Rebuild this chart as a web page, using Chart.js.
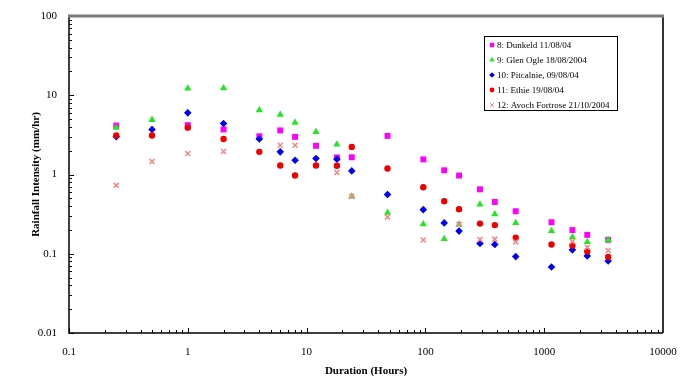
<!DOCTYPE html>
<html>
<head>
<meta charset="utf-8">
<script src="https://cdn.jsdelivr.net/npm/chart.js@4.4.0/dist/chart.umd.min.js"></script>
<style>
  html, body { margin: 0; padding: 0; background: #fff; }
</style>
</head>
<body>
<canvas id="rainChart" width="685" height="385"></canvas>
<script>
// Storm durations (hours) shared by every site
const durations = [0.25, 0.5, 1, 2, 4, 6, 8, 12, 18, 24, 48, 96, 144, 192, 288, 384, 576, 1152, 1728, 2304, 3456];

// Rainfall intensity (mm/hr) per site, null where no point is visible
const dunkeld  = [4.15, null, 4.2, 3.7, 3.04, 3.6, 2.98, 2.3, 1.64, 1.65, 3.07, 1.55, 1.13, 0.97, 0.65, 0.45, 0.344, 0.25, 0.199, 0.173, 0.15];
const glenOgle = [3.9, 4.9, 12.2, 12.3, 6.5, 5.7, 4.5, 3.44, 2.39, 0.53, 0.33, 0.236, 0.154, 0.235, 0.42, 0.316, 0.245, 0.194, 0.162, 0.141, 0.149];
const pitcalnie = [3.0, 3.7, 6.0, 4.4, 2.8, 1.93, 1.51, 1.59, 1.56, 1.11, 0.56, 0.36, 0.245, 0.193, 0.135, 0.131, 0.092, 0.068, 0.112, 0.094, 0.081];
const ethie    = [3.1, 3.1, 3.9, 2.8, 1.93, 1.3, 0.97, 1.3, 1.29, 2.23, 1.19, 0.69, 0.46, 0.365, 0.24, 0.23, 0.159, 0.131, 0.127, 0.107, 0.091];
const avoch    = [0.73, 1.46, 1.84, 1.95, null, 2.34, 2.34, null, 1.06, 0.53, 0.29, 0.149, null, 0.235, 0.151, 0.153, 0.141, null, 0.143, 0.121, 0.11];

const seriesLabels = ["8: Dunkeld 11/08/04", "9: Glen Ogle 18/08/2004", "10: Pitcalnie, 09/08/04", "11: Ethie 19/08/04", "12: Avoch Fortrose 21/10/2004"];

const xTicks = [0.1, 1, 10, 100, 1000, 10000];
const yTicks = [0.01, 0.1, 1, 10, 100];

const serif = "'Liberation Serif', 'Times New Roman', serif";

function toPoints(values) {
    return durations.map((d, i) => ({ x: d, y: values[i] })).filter(p => p.y !== null);
}

// inward minor/major tick marks plus the plot frame
const frameTicks = {
    id: 'frameTicks',
    beforeDatasetsDraw(chart) {
        const { ctx, chartArea: a, scales } = chart;
        ctx.save();
        ctx.strokeStyle = '#000';
        ctx.lineWidth = 1;
        ctx.beginPath();
        for (let d = 0.1; d < 10000; d *= 10) {
            for (let m = 1; m <= 9; m++) {
                const px = Math.round(scales.x.getPixelForValue(d * m)) + 0.5;
                const len = m === 1 ? 5 : 3;
                ctx.moveTo(px, a.bottom);
                ctx.lineTo(px, a.bottom - len);
            }
        }
        for (let d = 0.01; d < 100; d *= 10) {
            for (let m = 1; m <= 9; m++) {
                const py = Math.round(scales.y.getPixelForValue(d * m)) + 0.5;
                const len = m === 1 ? 5 : 3;
                ctx.moveTo(a.left, py);
                ctx.lineTo(a.left + len, py);
            }
        }
        ctx.stroke();

        // left + bottom axis lines
        ctx.lineWidth = 1.5;
        ctx.beginPath();
        ctx.moveTo(a.left, a.top);
        ctx.lineTo(a.left, a.bottom);
        ctx.lineTo(a.right, a.bottom);
        ctx.stroke();
        // right edge
        ctx.strokeStyle = '#333';
        ctx.lineWidth = 2;
        ctx.beginPath();
        ctx.moveTo(a.right, a.top);
        ctx.lineTo(a.right, a.bottom);
        ctx.stroke();
        // top edge, thick grey
        ctx.strokeStyle = '#7a7a7a';
        ctx.lineWidth = 3;
        ctx.beginPath();
        ctx.moveTo(a.left - 1, a.top);
        ctx.lineTo(a.right + 1, a.top);
        ctx.stroke();
        ctx.restore();
    }
};

// boxed legend inside the plot, top right
const boxLegend = {
    id: 'boxLegend',
    afterDatasetsDraw(chart) {
        const { ctx } = chart;
        const left = 484, top = 36, w = 133, h = 74;
        ctx.save();
        ctx.fillStyle = '#fff';
        ctx.fillRect(left, top, w, h);
        ctx.strokeStyle = '#000';
        ctx.lineWidth = 1;
        ctx.strokeRect(left + 0.5, top + 0.5, w, h);
        ctx.font = "9px " + serif;
        ctx.textBaseline = 'middle';
        chart.data.datasets.forEach((ds, i) => {
            const y = top + 9 + i * 15;
            ctx.fillStyle = ds.backgroundColor;
            ctx.strokeStyle = ds.borderColor;
            Chart.helpers.drawPoint(ctx, {
                pointStyle: ds.pointStyle,
                radius: ds.pointRadius * 0.75,
                rotation: 0,
                borderWidth: ds.pointBorderWidth
            }, left + 8, y);
            ctx.fillStyle = '#000';
            ctx.fillText(ds.label, left + 13, y + 0.5);
        });
        ctx.restore();
    }
};

new Chart(document.getElementById('rainChart'), {
    type: 'scatter',
    data: {
        datasets: [
            {
                label: seriesLabels[0],
                data: toPoints(dunkeld),
                pointStyle: 'rect',
                pointRadius: 4.2,
                pointBorderWidth: 0,
                backgroundColor: '#ff00ff',
                borderColor: '#ff00ff',
                order: 5
            },
            {
                label: seriesLabels[1],
                data: toPoints(glenOgle),
                pointStyle: 'triangle',
                pointRadius: 4.2,
                pointBorderWidth: 0,
                backgroundColor: '#22e622',
                borderColor: '#22e622',
                order: 4
            },
            {
                label: seriesLabels[2],
                data: toPoints(pitcalnie),
                pointStyle: 'rectRot',
                pointRadius: 3.8,
                pointBorderWidth: 0,
                backgroundColor: '#0000ee',
                borderColor: '#0000ee',
                order: 3
            },
            {
                label: seriesLabels[3],
                data: toPoints(ethie),
                pointStyle: 'circle',
                pointRadius: 3.2,
                pointBorderWidth: 0,
                backgroundColor: '#ee0000',
                borderColor: '#ee0000',
                order: 2
            },
            {
                label: seriesLabels[4],
                data: toPoints(avoch),
                pointStyle: 'crossRot',
                pointRadius: 3.5,
                pointBorderWidth: 1.6,
                backgroundColor: '#f08a8a',
                borderColor: '#f08a8a',
                order: 1
            }
        ]
    },
    options: {
        responsive: false,
        animation: false,
        layout: { padding: { top: 16, right: 22, left: 0, bottom: 0 } },
        plugins: {
            legend: { display: false },
            tooltip: { enabled: false }
        },
        scales: {
            x: {
                type: 'logarithmic',
                min: 0.1,
                max: 10000,
                grid: { display: false },
                border: { display: false },
                afterBuildTicks: scale => { scale.ticks = xTicks.map(v => ({ value: v })); },
                afterFit: scale => { scale.height = 52; },
                ticks: {
                    autoSkip: false,
                    maxRotation: 0,
                    padding: 5,
                    color: '#000',
                    font: { family: serif, size: 11 },
                    callback: v => String(v)
                },
                title: {
                    display: true,
                    text: 'Duration (Hours)',
                    color: '#000',
                    font: { family: serif, size: 11, weight: 'bold' },
                    padding: { top: 4, bottom: 7 }
                }
            },
            y: {
                type: 'logarithmic',
                min: 0.01,
                max: 100,
                grid: { display: false },
                border: { display: false },
                afterBuildTicks: scale => { scale.ticks = yTicks.map(v => ({ value: v })); },
                afterFit: scale => { scale.width = 69; },
                ticks: {
                    autoSkip: false,
                    padding: 4,
                    color: '#000',
                    font: { family: serif, size: 11 },
                    callback: v => String(v)
                },
                title: {
                    display: true,
                    text: 'Rainfall Intensity (mm/hr)',
                    color: '#000',
                    font: { family: serif, size: 11, weight: 'bold' },
                    padding: { top: 30, bottom: 4 }
                }
            }
        }
    },
    plugins: [frameTicks, boxLegend]
});
</script>
</body>
</html>
